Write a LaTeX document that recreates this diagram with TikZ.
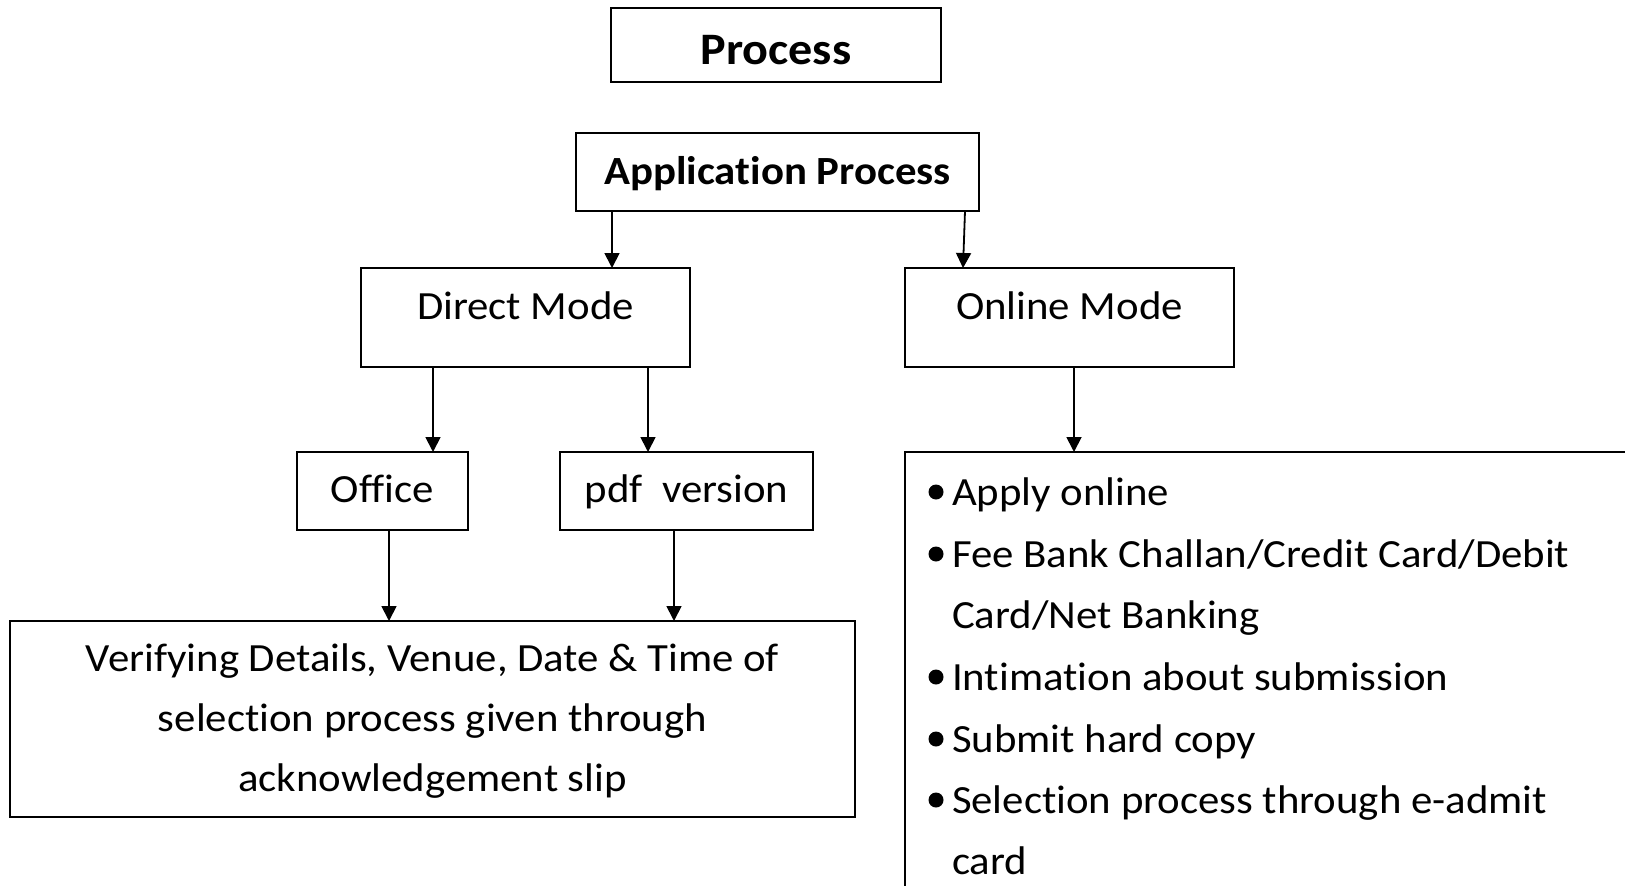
\documentclass[tikz,border=0pt]{standalone}
\usepackage{fontspec}
\setmainfont{Carlito}[FakeStretch=1.07, Ligatures=NoCommon]
\usetikzlibrary{arrows.meta}
\tikzset{
  box/.style={draw=black, line width=1.8pt, rectangle, inner sep=0pt, outer sep=0pt},
  txt/.style={inner sep=0pt, outer sep=0pt, anchor=base, font=\fontsize{40}{48}\selectfont},
  ltxt/.style={txt, anchor=base west},
  btxt/.style={txt, font=\fontsize{40}{48}\selectfont\bfseries},
  arr/.style={line width=1.8pt, -{Triangle[length=15pt,width=15pt]}},
}
\begin{document}
\begin{tikzpicture}[x=1pt,y=-1pt]
\path[use as bounding box] (0,0) rectangle (1625,886);
\clip (0,0) rectangle (1625,886);
% boxes
\node[box, minimum width=330, minimum height=74] (p) at (776,45) {};
\node[box, minimum width=403, minimum height=78] (ap) at (777.5,172) {};
\node[box, minimum width=329, minimum height=99] (dm) at (525.5,317.5) {};
\node[box, minimum width=329, minimum height=99] (om) at (1069.5,317.5) {};
\node[box, minimum width=171, minimum height=78] (of) at (382.5,491) {};
\node[box, minimum width=253, minimum height=78] (pdf) at (686.5,491) {};
\node[box, minimum width=845, minimum height=196] (vf) at (432.5,719) {};
\node[box, minimum width=735, minimum height=448] (ol) at (1272.5,676) {};
% texts
\node[btxt, font=\fontsize{45}{54}\selectfont\bfseries] (tp) at (776,64) {Process};
\node[btxt] (tap) at (777.5,184) {Application Process};
\node[txt] (tdm) at (525.5,319) {Direct Mode};
\node[txt] (tom) at (1069.5,319) {Online Mode};
\node[txt] (tof) at (382.5,502) {Office};
\node[txt] (tpdf) at (686.5,502) {pdf~~version};
\node[txt] (tv1) at (432.5,671) {Verifying Details, Venue, Date \& Time of};
\node[txt] (tv2) at (432.5,731) {selection process given through};
\node[txt] (tv3) at (432.5,791) {acknowledgement slip};
\node[ltxt] (l1) at (952,505) {Apply online};
\node[ltxt] (l2) at (952,567) {Fee Bank Challan/Credit Card/Debit};
\node[ltxt] (l3) at (952,628) {Card/Net Banking};
\node[ltxt] (l4) at (952,690) {Intimation about submission};
\node[ltxt] (l5) at (952,752) {Submit hard copy};
\node[ltxt] (l6) at (952,813) {Selection process through e-admit};
\node[ltxt] (l7) at (952,874) {card};
% bullets
\foreach \y in {505,567,690,752,813} {
  \fill (936,\y-13) circle (7.5);
}
% arrow x positions
\coordinate (xa) at (612,0);
\coordinate (xb1) at (965,0);
\coordinate (xb2) at (963,0);
\coordinate (xc) at (433,0);
\coordinate (xd) at (648,0);
\coordinate (xe) at (389,0);
\coordinate (xf) at (674,0);
\coordinate (xg) at (1074,0);
% connectors
\draw[arr] (ap.south -| xa) -- (dm.north -| xa);
\draw[arr] (ap.south -| xb1) -- (om.north -| xb2);
\draw[arr] (dm.south -| xc) -- (of.north -| xc);
\draw[arr] (dm.south -| xd) -- (pdf.north -| xd);
\draw[arr] (of.south -| xe) -- (vf.north -| xe);
\draw[arr] (pdf.south -| xf) -- (vf.north -| xf);
\draw[arr] (om.south -| xg) -- (ol.north -| xg);
\end{tikzpicture}
\end{document}
